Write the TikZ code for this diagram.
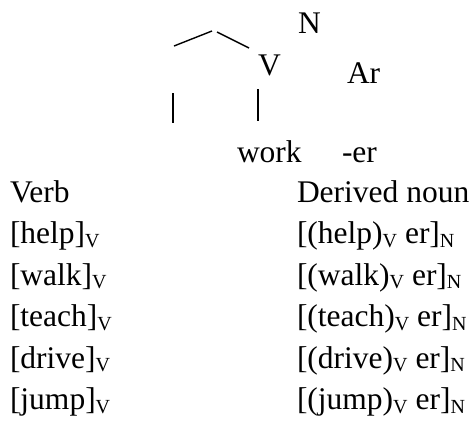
\documentclass[tikz,border=0pt]{standalone}
\usepackage{fontspec}
\setmainfont{Liberation Serif}
% lowered, smaller category label
\newcommand{\catlab}[1]{\raisebox{-3.5pt}{\fontsize{20}{20}\selectfont #1}}
\begin{document}
\begin{tikzpicture}[x=1pt,y=-1pt,
  lbl/.style={anchor=base west,inner sep=0pt,outer sep=0pt,font=\fontsize{31.5}{31.5}\selectfont},
  branch/.style={line width=1.4pt}]
\useasboundingbox (0,0) rectangle (475,421);

% tree fragment
\node[lbl] (nN) at (298,33) {N};
\node[lbl] (nV) at (258,75) {V};
\node[lbl] (nAr) at (347,83) {Ar};
\node[lbl] (nwork) at (237,162) {work};
\node[lbl] (ner) at (342,162) {-er};

\coordinate (a1) at (174,46);
\coordinate (a2) at (212,31);
\coordinate (b1) at (217,32);
\coordinate (b2) at (249,48);
\coordinate (c1) at (173,93);
\coordinate (c2) at (173,123);
\coordinate (d1) at (258,89);
\coordinate (d2) at (258,121);
\draw[branch] (a1) -- (a2);
\draw[branch] (b1) -- (b2);
\draw[branch] (c1) -- (c2);
\draw[branch] (d1) -- (d2);

% table of verbs and derived nouns
\node[lbl] (hv) at (10,202) {Verb};
\node[lbl] (hd) at (297,202) {Derived noun};

\node[lbl] (v1) at (10,243.5) {[help]\catlab{V}};
\node[lbl] (v2) at (10,285) {[walk]\catlab{V}};
\node[lbl] (v3) at (10,326.5) {[teach]\catlab{V}};
\node[lbl] (v4) at (10,368) {[drive]\catlab{V}};
\node[lbl] (v5) at (10,409.5) {[jump]\catlab{V}};

\node[lbl] (d1n) at (297,243.5) {[(help)\catlab{V} er]\catlab{N}};
\node[lbl] (d2n) at (297,285) {[(walk)\catlab{V} er]\catlab{N}};
\node[lbl] (d3n) at (297,326.5) {[(teach)\catlab{V} er]\catlab{N}};
\node[lbl] (d4n) at (297,368) {[(drive)\catlab{V} er]\catlab{N}};
\node[lbl] (d5n) at (297,409.5) {[(jump)\catlab{V} er]\catlab{N}};
\end{tikzpicture}
\end{document}
